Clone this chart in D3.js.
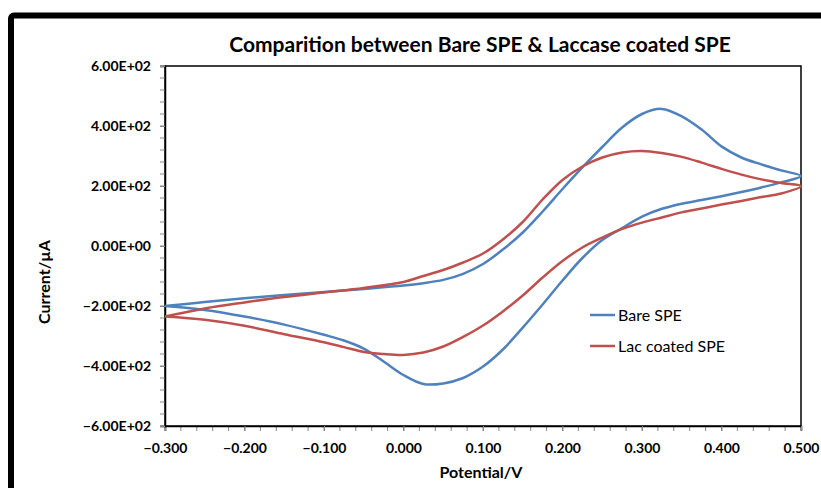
<!DOCTYPE html>
<html>
<head>
<meta charset="utf-8">
<script src="https://cdn.jsdelivr.net/npm/d3@7"></script>
<style>
  body { margin: 0; background: #fff; }
  text { font-family: Lato, "Open Sans", sans-serif; }
</style>
</head>
<body>
<script>
// potential grid (V): forward sweep then reverse sweep
const potentialFwd = [-0.3, -0.25, -0.2, -0.15, -0.1, -0.05, 0, 0.025, 0.05, 0.075, 0.1, 0.125, 0.15, 0.175,
  0.2, 0.225, 0.25, 0.275, 0.3, 0.325, 0.35, 0.375, 0.4, 0.425, 0.45, 0.475, 0.5];
const potentialRev = [0.475, 0.45, 0.425, 0.4, 0.375, 0.35, 0.325, 0.3, 0.275, 0.25, 0.225, 0.2, 0.175, 0.15,
  0.125, 0.1, 0.075, 0.05, 0.025, 0, -0.025, -0.05, -0.075, -0.1, -0.15, -0.2, -0.25, -0.3];

// current (uA)
const bareFwd = [-200, -187, -174, -163, -153, -143, -132, -124, -113, -93, -60, -12, 45, 115,
  190, 262, 330, 395, 440, 457, 432, 388, 332, 295, 272, 252, 233];
const bareRev = [212, 195, 180, 166, 153, 141, 124, 98, 60, 20, -40, -115, -195, -272,
  -345, -402, -440, -458, -460, -430, -385, -342, -315, -296, -262, -235, -213, -200];
const lacFwd = [-235, -208, -188, -170, -155, -140, -120, -100, -80, -55, -25, 22, 80, 155,
  220, 265, 295, 312, 317, 310, 297, 278, 257, 238, 222, 210, 200];
const lacRev = [175, 163, 150, 138, 125, 112, 95, 78, 57, 28, -5, -50, -105, -165,
  -218, -265, -303, -335, -355, -363, -360, -353, -337, -321, -294, -266, -246, -235];

const seriesNames = ["Bare SPE", "Lac coated SPE"];
const seriesColors = ["#4F81BD", "#C0504D"];

const xTicks = [-0.3, -0.2, -0.1, 0, 0.1, 0.2, 0.3, 0.4, 0.5];
const yTicks = [-600, -400, -200, 0, 200, 400, 600];

const width = 821, height = 488;
const plot = { left: 165, right: 801, top: 66, bottom: 426 };

const svg = d3.select("body").append("svg")
  .attr("width", width)
  .attr("height", height);

// thick black frame
svg.append("rect")
  .attr("x", 11).attr("y", 15.5)
  .attr("width", 840).attr("height", 500)
  .attr("rx", 3)
  .attr("fill", "none")
  .attr("stroke", "#000")
  .attr("stroke-width", 6);

const x = d3.scaleLinear().domain([-0.3, 0.5]).range([plot.left, plot.right]);
const y = d3.scaleLinear().domain([-600, 600]).range([plot.bottom, plot.top]);

// plot box
svg.append("rect")
  .attr("x", plot.left).attr("y", plot.top)
  .attr("width", plot.right - plot.left).attr("height", plot.bottom - plot.top)
  .attr("fill", "none")
  .attr("stroke", "#000")
  .attr("stroke-width", 1.5);

// minor ticks
const xMinor = d3.range(-0.3, 0.5001, 0.02);
svg.append("g").selectAll("line")
  .data(xMinor).enter().append("line")
  .attr("x1", d => x(d)).attr("x2", d => x(d))
  .attr("y1", plot.bottom).attr("y2", plot.bottom + 5)
  .attr("stroke", "#888").attr("stroke-width", 1);

const yMinor = d3.range(-600, 600.1, 40);
svg.append("g").selectAll("line")
  .data(yMinor).enter().append("line")
  .attr("x1", plot.left - 5).attr("x2", plot.left)
  .attr("y1", d => y(d)).attr("y2", d => y(d))
  .attr("stroke", "#888").attr("stroke-width", 1);

// axes
const xAxis = svg.append("g")
  .attr("transform", `translate(0,${plot.bottom})`)
  .call(d3.axisBottom(x).tickValues(xTicks).tickSize(5).tickFormat(d3.format(".3f")));
const yAxis = svg.append("g")
  .attr("transform", `translate(${plot.left},0)`)
  .call(d3.axisLeft(y).tickValues(yTicks).tickSize(5)
    .tickFormat(d => {
      const s = d3.format(".2e")(d).replace("e", "E");
      return s.replace(/E([+-])(\d)$/, "E$10$2");
    }));

[xAxis, yAxis].forEach(g => {
  g.select(".domain").attr("stroke", "#000").attr("stroke-width", 1.5);
  g.selectAll(".tick line").attr("stroke", "#888");
  g.selectAll(".tick text")
    .attr("fill", "#000")
    .style("font-family", "Lato, sans-serif")
    .style("font-size", "14px")
    .style("font-weight", "bold");
});
xAxis.selectAll(".tick text").attr("y", 17).attr("dy", "0.71em");
yAxis.selectAll(".tick text").attr("x", -14);

// curves
const line = d3.line()
  .x(d => x(d[0]))
  .y(d => y(d[1]))
  .curve(d3.curveCatmullRom.alpha(0.5));

const potential = potentialFwd.concat(potentialRev);
const series = [bareFwd.concat(bareRev), lacFwd.concat(lacRev)];

svg.append("g").selectAll("path")
  .data(series).enter().append("path")
  .attr("d", s => line(s.map((v, i) => [potential[i], v])))
  .attr("fill", "none")
  .attr("stroke", (s, i) => seriesColors[i])
  .attr("stroke-width", 2.5);

// legend
const legend = svg.append("g").attr("transform", "translate(590,315)");
seriesNames.forEach((name, i) => {
  const g = legend.append("g").attr("transform", `translate(0,${i * 31})`);
  g.append("line")
    .attr("x1", 0).attr("x2", 25)
    .attr("stroke", seriesColors[i]).attr("stroke-width", 2.5);
  g.append("text")
    .attr("x", 28).attr("dy", "0.35em")
    .style("font-size", "16px")
    .text(name);
});

// titles
svg.append("text")
  .attr("x", 480).attr("y", 52)
  .attr("text-anchor", "middle")
  .style("font-size", "21px")
  .style("font-weight", "bold")
  .text("Comparition between Bare SPE & Laccase coated SPE");

svg.append("text")
  .attr("x", 481).attr("y", 478)
  .attr("text-anchor", "middle")
  .style("font-size", "16px")
  .style("font-weight", "bold")
  .text("Potential/V");

svg.append("text")
  .attr("transform", "translate(50,282) rotate(-90)")
  .attr("text-anchor", "middle")
  .style("font-size", "16px")
  .style("font-weight", "bold")
  .text("Current/µA");
</script>
</body>
</html>
